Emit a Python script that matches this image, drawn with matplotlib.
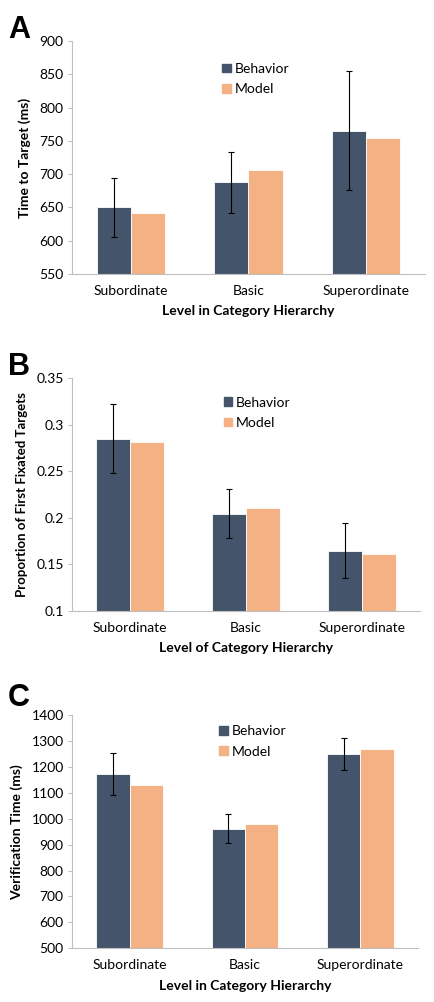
import numpy as np
import matplotlib.pyplot as plt
from matplotlib.patches import Patch

plt.rcParams['font.family'] = ['Lato', 'DejaVu Sans']

categories = ['Subordinate', 'Basic', 'Superordinate']

# panel A: time to target
a_behavior = [650, 688, 765]
a_behavior_lo = [605, 642, 676]
a_behavior_hi = [695, 734, 855]
a_model = [641, 707, 754]

# panel B: proportion of first fixated targets
b_behavior = [0.285, 0.204, 0.165]
b_behavior_lo = [0.248, 0.178, 0.136]
b_behavior_hi = [0.322, 0.231, 0.195]
b_model = [0.281, 0.211, 0.161]

# panel C: verification time
c_behavior = [1171, 962, 1248]
c_behavior_lo = [1090, 905, 1188]
c_behavior_hi = [1255, 1018, 1311]
c_model = [1130, 980, 1270]

navy = '#44546A'
peach = '#F4B183'
grey = '#BFBFBF'

panels = [
    ('A', a_behavior, a_behavior_lo, a_behavior_hi, a_model,
     (550, 900), np.arange(550, 901, 50),
     'Time to Target (ms)', 'Level in Category Hierarchy',
     [0.1655, 0.7265, 0.8115, 0.2325], 0.985, (0.41, 0.93), 10),
    ('B', b_behavior, b_behavior_lo, b_behavior_hi, b_model,
     (0.1, 0.35), np.arange(0.1, 0.351, 0.05),
     'Proportion of First Fixated Targets', 'Level of Category Hierarchy',
     [0.1655, 0.3902, 0.8, 0.2323], 0.649, (0.42, 0.945), 9.5),
    ('C', c_behavior, c_behavior_lo, c_behavior_hi, c_model,
     (500, 1400), np.arange(500, 1401, 100),
     'Verification Time (ms)', 'Level in Category Hierarchy',
     [0.1655, 0.0536, 0.7955, 0.2328], 0.318, (0.41, 0.98), 10),
]

fig = plt.figure(figsize=(4.35, 10.02), dpi=100)
x = np.arange(len(categories))
w = 0.29

for letter, beh, lo, hi, mod, ylim, yticks, ylab, xlab, rect, ly, lpos, yfs in panels:
    ax = fig.add_axes(rect)
    beh = np.array(beh)
    err = [beh - np.array(lo), np.array(hi) - beh]
    ax.bar(x - w / 2, beh, w, color=navy, edgecolor='white', linewidth=0.6, zorder=2)
    ax.bar(x + w / 2, mod, w, color=peach, edgecolor='white', linewidth=0.6, zorder=2)
    ax.errorbar(x - w / 2, beh, yerr=err, fmt='none', ecolor='black',
                elinewidth=0.8, capsize=2, capthick=0.8, zorder=3)
    ax.set_xlim(-0.5, 2.5)
    ax.set_ylim(*ylim)
    ax.set_yticks(yticks)
    ax.set_yticklabels([f'{round(v, 2):g}' for v in yticks])
    ax.set_xticks(x)
    ax.set_xticklabels(categories)
    for s in ['top', 'right']:
        ax.spines[s].set_visible(False)
    for s in ['left', 'bottom']:
        ax.spines[s].set_color(grey)
        ax.spines[s].set_linewidth(0.8)
    ax.tick_params(axis='y', length=3, color=grey, labelsize=10, pad=3)
    ax.tick_params(axis='x', length=0, labelsize=10, pad=8)
    ax.set_ylabel(ylab, fontsize=yfs, fontweight='bold', labelpad=6)
    ax.set_xlabel(xlab, fontsize=10, fontweight='bold', labelpad=6)
    handles = [Patch(color=navy, label='Behavior'), Patch(color=peach, label='Model')]
    ax.legend(handles=handles, loc='upper left', bbox_to_anchor=lpos, frameon=False,
              fontsize=10, handlelength=0.6, handleheight=0.6, handletextpad=0.3,
              labelspacing=0.6, borderaxespad=0)
    fig.text(0.018, ly, letter, fontsize=22, fontweight='bold', va='top', ha='left',
             family=['Liberation Sans', 'DejaVu Sans'])

fig.savefig('out.png', dpi=100)
